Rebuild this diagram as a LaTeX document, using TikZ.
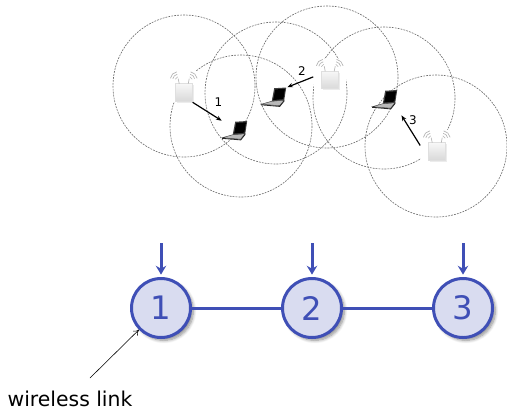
\documentclass[tikz,border=0pt]{standalone}
\usepackage{fontspec}
\setmainfont{DejaVu Sans}
\usepackage{tikz}
\usetikzlibrary{arrows.meta,positioning,shadows.blur}
\definecolor{netblue}{HTML}{3F4FB6}
\definecolor{netfill}{HTML}{D9DCF0}
\definecolor{rangegray}{HTML}{6E6E6E}

\tikzset{
  apicon/.pic={
    \fill[gray!15] (9.5,14.5) rectangle (27,32);
    \shade[top color=gray!6, bottom color=gray!30, draw=gray!25] (8,13) rectangle (25,30.5);
    \draw[gray!55, line width=0.5pt] (12,13) -- (11,8) (21,13) -- (22,8);
    \foreach \r in {3,5.5,8} {
      \draw[gray!60, line width=0.45pt] (11,9) ++(190:\r) arc[start angle=190, end angle=260, radius=\r];
      \draw[gray!60, line width=0.45pt] (22,9) ++(-80:\r) arc[start angle=-80, end angle=-10, radius=\r];
    }
  },
  laptopicon/.pic={
    \filldraw[fill=gray!55, draw=gray!45!black, line width=0.3pt]
      (11,14) -- (23.5,13) -- (19,18.5) -- (0.5,17) -- cycle;
    \draw[gray!30!black, line width=0.6pt] (0.5,17.6) -- (19,19.2) -- (23.5,13.6);
    \fill[gray!50!black] (13.5,1) -- (25.5,0.3) -- (23.5,13) -- (11,14) -- cycle;
    \fill[black] (14.6,2.2) -- (24.3,1.6) -- (22.6,11.9) -- (12.4,12.8) -- cycle;
  }
}

\begin{document}
\begin{tikzpicture}[x=0.25mm, y=-0.25mm,
  coverage/.style={draw=rangegray, line width=0.45pt, dash pattern=on 1.3pt off 0.8pt},
  ap/.style={rectangle, fill=white, inner sep=0pt, minimum width=8mm, minimum height=7.75mm},
  laptop/.style={rectangle, inner sep=0pt, minimum width=6.5mm, minimum height=5mm},
  arr/.style={-{Stealth[length=1.4mm, width=1.1mm]}, line width=0.85pt, black},
  tag/.style={font=\fontsize{8.5}{9}\selectfont, inner sep=0pt},
  station/.style={circle, draw=netblue, fill=netfill, line width=0.75mm, minimum size=14.75mm,
    inner sep=0pt, text=netblue, font=\fontsize{23}{23}\selectfont,
    blur shadow={shadow xshift=0.7mm, shadow yshift=-0.7mm, shadow opacity=45, shadow blur steps=8}},
  link/.style={draw=netblue, line width=0.75mm},
  feed/.style={-{Stealth[length=2.2mm, width=2.6mm]}, draw=netblue, line width=0.75mm, shorten >=0.6mm},
  pointer/.style={-{To[length=1.3mm, width=1.6mm]}, line width=0.4pt, black},
  note/.style={font=\fontsize{14.5}{15}\selectfont, inner sep=0pt, anchor=base}
]
  \useasboundingbox (0,0) rectangle (507,409);

  \foreach \cx/\cy in {184/86, 241/126, 276/93, 327/77, 384/98, 436/146}
    \draw[coverage] (\cx,\cy) circle[radius=71];

  \node[ap] (ap1) at (183.5,86.5) {};
  \node[ap] (ap2) at (329.5,74) {};
  \node[ap] (ap3) at (436.5,145.5) {};
  \node[laptop] (lap1) at (235,131) {};
  \node[laptop] (lap2) at (274,97.5) {};
  \node[laptop] (lap3) at (385,100) {};
  \foreach \n in {ap1,ap2,ap3}
    \pic at (\n.north west) {apicon};
  \foreach \n in {lap1,lap2,lap3}
    \pic at (\n.north west) {laptopicon};

  \draw[arr] (ap1.-60) -- (lap1.north west);
  \draw[arr] (ap2.190) -- (lap2.north east);
  \draw[arr, shorten >=1.5mm] (ap3.west) -- (lap3.south east);
  \node[tag] (t1) at (218.5,102) {1};
  \node[tag] (t2) at (302,71) {2};
  \node[tag] (t3) at (413,120) {3};

  \foreach \i/\x in {1/161, 2/312, 3/463} {
    \node[station] (s\i) at (\x,308) {\i};
    \coordinate (in\i) at (\x,243);
    \draw[feed] (in\i) -- (s\i);
  }
  \draw[link] (s1) -- (s2);
  \draw[link] (s2) -- (s3);

  \node[note] (wl) at (70,406) {wireless link};
  \coordinate (tail) at (90,378);
  \draw[pointer] (tail) -- (s1);
\end{tikzpicture}
\end{document}
